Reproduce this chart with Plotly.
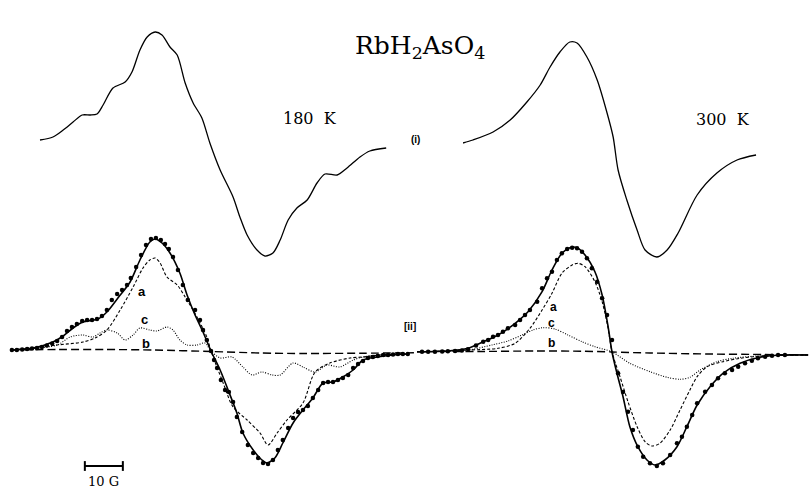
import plotly.graph_objects as go

# ---------------- data (field offset in G, intensity in arbitrary units) ----------------
# (i) experimental spectra
top180_x = [-45.0, -41.6, -38.9, -36.3, -33.9, -31.8, -30.0, -28.4, -25.8, -22.6, -20.8, -18.7, -16.8, -14.7,
            -12.9, -10.8, -8.9, -6.8, -4.7, -2.4, -0.3, 2.4, 5.8, 7.6, 9.5, 12.1, 14.2, 16.3, 18.2, 20.3,
            22.6, 25.3, 27.9, 30.0, 33.2, 35.8, 39.2, 41.8, 46.1]
top180_y = [4, 7, 14, 22, 29, 29, 30, 39, 56, 62, 72, 94, 107, 112,
            109, 97, 89, 61, 41, 26, 1, -26, -53, -73, -91, -106, -112, -109, -96, -76,
            -64, -56, -39, -30, -31, -24, -13, -7, -4]

top300_x = [-39.2, -36.6, -31.3, -26.8, -22.4, -18.9, -16.3, -13.7, -11.1, -9.2, -6.6, -3.9, -1.3, 0.3,
            1.6, 3.9, 6.6, 8.7, 11.8, 14.5, 17.4, 22.4, 27.6, 32.9, 37.9]
top300_y = [1, 4, 12, 24, 42, 59, 77, 92, 102, 101, 87, 64, 31, 7,
            -26, -56, -86, -106, -113, -106, -89, -51, -29, -16, -11]

# (ii) 180 K : experimental points, total fit and components a, b, c
exp180_x = [-52.4, -51.1, -49.7, -48.4, -47.1, -45.8, -44.5, -43.2, -41.8, -40.5, -39.2, -37.9, -36.6, -35.3,
            -33.9, -32.6, -31.3, -30.0, -28.7, -27.4, -26.1, -24.7, -23.4, -22.1, -21.1, -19.7, -18.4, -17.1,
            -15.8, -14.5, -13.2, -12.1, -11.1, -10.0, -8.7, -7.4, -6.1, -4.2, -2.9, -2.1, -1.1, 0.0, 0.8,
            1.6, 2.6, 3.7, 4.7, 5.8, 6.8, 8.2, 9.7, 11.1, 12.4, 13.7, 15.0, 16.3, 17.6, 18.9, 20.3, 21.6,
            22.9, 24.2, 25.5, 26.8, 28.2, 29.5, 30.8, 32.1, 33.4, 34.7, 36.1, 37.4, 38.7, 40.0, 41.3, 42.6,
            43.9, 45.3, 46.6, 47.9, 49.2, 50.5, 51.8]
exp180_y = [2, 2, 2.5, 3, 3.5, 4, 5, 6.5, 8.5, 11, 15, 21, 25, 28,
            31, 32, 32, 33, 36, 42, 52, 58, 62, 67, 74, 85, 97, 107,
            113, 114, 112, 108, 103, 95, 82, 67, 52, 42, 32, 22, 12, 1, -8,
            -16, -28, -38, -40, -50, -65, -80, -93, -101, -106, -111, -112, -108, -98, -88, -76, -66,
            -60, -58, -54, -46, -38, -31, -30, -30, -28, -26, -23, -16, -12, -9, -6, -5,
            -4, -3, -3, -2.5, -2, -2, -2]

fit180_x = [-52.6, -46.8, -41.6, -38.9, -36.3, -33.7, -29.7, -27.4, -24.5, -21.3, -18.7, -16.1, -14.7, -12.9,
            -10.8, -8.2, -6.3, -4.2, -2.1, 0.0, 2.4, 4.5, 6.8, 8.4, 11.1, 13.4, 14.7, 16.8, 18.9, 21.6,
            24.2, 26.8, 29.5, 32.1, 34.7, 37.4, 40.0, 43.7, 47.9, 51.8]
fit180_y = [2, 4, 10, 16, 24, 30, 33, 40, 54, 70, 92, 110, 113, 109,
            99, 79, 57, 37, 20, 1, -18, -38, -61, -81, -98, -108, -111, -106, -91, -71,
            -58, -46, -31, -30, -25, -18, -8, -5, -3, -2]

a180_x = [-52.6, -40.5, -33.7, -30.5, -27.4, -23.9, -20.5, -17.9, -16.1, -14.7, -13.4, -11.6, -8.9, -6.8,
          -3.7, -1.1, 0.0, 3.2, 5.8, 9.5, 12.9, 15.0, 17.4, 20.0, 24.2, 27.4, 31.3, 36.6, 40.0, 44.5, 51.8]
a180_y = [2, 7, 10, 14, 22, 42, 65, 84, 92, 94, 89, 75, 67, 55,
          35, 15, 1, -31, -55, -68, -81, -93, -81, -68, -51, -20, -11, -6, -5, -3, -2]

c180_x = [-52.6, -40.5, -37.1, -33.7, -31.1, -29.2, -27.4, -24.7, -22.6, -20.5, -18.7, -16.1, -14.2, -11.6,
          -10.0, -8.2, -6.3, -3.7, -1.6, 0.0, 2.4, 5.5, 8.4, 10.8, 13.4, 16.1, 18.2, 21.6, 24.2, 27.4,
          30.5, 33.9, 37.4, 40.0, 43.7, 51.8]
c180_y = [2, 7, 15, 17, 15, 19, 22, 19, 12, 17, 24, 22, 21, 25,
          22, 12, 7, 7, 9, 1, -6, -5, -15, -23, -20, -23, -23, -11, -15, -20,
          -13, -15, -8, -5, -3, -2]

b180_x = [-52.6, -40.0, -28.0, -15.0, 0.0, 13.0, 25.0, 40.0, 53.4]
b180_y = [2, 2.5, 2.5, 2, 0.5, -1, -1.5, -1.2, -0.8]

# (ii) 300 K
exp300_x = [-50.0, -48.4, -46.6, -44.7, -43.2, -41.3, -39.5, -37.9, -35.8, -33.9, -32.6, -31.3, -30.0, -28.7,
            -27.4, -25.5, -24.2, -22.9, -21.6, -19.7, -18.4, -17.1, -15.8, -14.5, -13.2, -11.8, -10.5, -9.2,
            -7.9, -6.6, -5.3, -3.9, -2.6, -1.3, 0.0, 1.6, 2.9, 4.2, 5.5, 6.8, 8.2, 10.0, 11.8, 13.4,
            15.3, 17.1, 18.4, 19.7, 21.1, 22.4, 24.5, 26.3, 27.9, 29.7, 31.6, 33.2, 35.0, 36.8, 38.4, 40.3,
            42.1, 43.7, 45.5]
exp300_y = [0.3, 0.3, 0.3, 0.5, 0.7, 1, 1.5, 2.7, 6.5, 10.3, 12, 15.3, 17, 20.3,
            23.7, 27, 32, 37, 42, 50.3, 63.7, 73.7, 80.3, 92, 98.7, 103, 104.3, 103.7,
            100.3, 93.7, 83.7, 70.3, 53.7, 37, 12, -21.3, -40, -59.7, -78, -94.7, -104.7, -111.3, -114, -111.3,
            -103, -91.3, -84.7, -74.7, -63, -51.3, -39.7, -33, -26.3, -21.3, -18, -14.7, -11.3, -8.7, -6.3, -4.7,
            -3.7, -3, -3]

fit300_x = [-51.3, -43.2, -37.9, -34.2, -30.0, -25.5, -22.1, -18.4, -15.8, -13.2, -11.1, -9.2, -7.1, -4.5,
            -2.6, -1.1, 0.0, 1.3, 2.9, 4.7, 6.8, 9.2, 11.3, 13.9, 17.1, 19.7, 22.4, 25.8, 29.2, 33.7,
            38.9, 45.0, 51.6]
fit300_y = [0.3, 1, 3.7, 9.7, 17, 28.7, 40.3, 60.3, 82, 98.7, 104.3, 104.3, 97, 80.3,
            57, 27, 0, -21.3, -44.7, -74.7, -94.7, -108, -113, -108, -94.7, -74.7, -53, -34.7, -21.3, -11.3,
            -5.3, -3, -3]

a300_x = [-51.3, -37.9, -30.0, -25.5, -21.6, -18.4, -15.8, -13.2, -10.5, -8.9, -7.1, -4.5, -2.6, -1.1,
          0.0, 2.1, 4.2, 6.6, 8.7, 10.5, 12.6, 15.3, 17.9, 20.5, 22.4, 25.0, 29.2, 33.7, 39.7, 51.6]
a300_y = [0.3, 2, 3.7, 8.7, 23.7, 42, 58.7, 78.7, 87, 88.7, 85.3, 70.3, 50.3, 25.3,
          0, -24.7, -49.7, -74.7, -89.7, -94, -91.3, -78, -58, -38, -24.7, -14.7, -9.7, -6.3, -4, -3]

c300_x = [-51.3, -37.9, -31.6, -27.4, -23.7, -20.8, -18.2, -15.0, -11.6, -7.9, -4.5, 0.0, 4.7, 10.0,
          14.5, 17.9, 20.5, 23.2, 27.6, 31.8, 38.2, 51.6]
c300_y = [0.3, 2, 7, 11, 17, 22, 24.3, 23, 17, 10.3, 5.3, 0, -11.3, -19.7,
          -25.3, -27.3, -25.3, -18, -9.7, -6.3, -4, -3]

b300_x = [-51.3, -35.0, -20.0, -8.0, 0.0, 10.0, 25.0, 40.0, 51.6]
b300_y = [0.3, 0.5, 1, 0.8, 0, -1, -2, -2.5, -3]

component_labels = ["a", "c", "b"]
label180_x = [-18.2, -17.6, -17.1]
label180_y = [60, 32, 8]
label300_x = [-15.5, -15.9, -15.9]
label300_y = [45, 29, 9]

temperatures = ["180\u00a0\u00a0K", "300\u00a0\u00a0K"]
scale_bar_start_G = -33.2
scale_bar_len_G = 10
title_text = "RbH<sub>2</sub>AsO<sub>4</sub>"

# ---------------- figure ----------------
BLACK = "black"
fig = go.Figure()

def line(x, y, xa, ya, dash="solid", width=1.4):
    fig.add_trace(go.Scatter(x=x, y=y, xaxis=xa, yaxis=ya, mode="lines",
                             line=dict(color=BLACK, width=width, dash=dash, shape="spline", smoothing=0.8),
                             hoverinfo="skip", showlegend=False))

def dots(x, y, xa, ya):
    fig.add_trace(go.Scatter(x=x, y=y, xaxis=xa, yaxis=ya, mode="markers",
                             marker=dict(color=BLACK, size=4.5), hoverinfo="skip", showlegend=False))

# top spectra (i)
line(top180_x, top180_y, "x", "y2", width=1.3)
line(top300_x, top300_y, "x2", "y2", width=1.3)

# bottom simulations (ii)
for (bx, by, ax_, ay_, cx, cy, fx, fy, ex, ey, xa) in [
        (b180_x, b180_y, a180_x, a180_y, c180_x, c180_y, fit180_x, fit180_y, exp180_x, exp180_y, "x"),
        (b300_x, b300_y, a300_x, a300_y, c300_x, c300_y, fit300_x, fit300_y, exp300_x, exp300_y, "x2")]:
    line(bx, by, xa, "y", dash="8px,4px", width=1.4)
    line(cx, cy, xa, "y", dash="1px,1.5px", width=1.1)
    line(ax_, ay_, xa, "y", dash="3px,2px", width=1.1)
    line(fx, fy, xa, "y", width=1.6)
    dots(ex, ey, xa, "y")

# scale bar
fig.add_trace(go.Scatter(x=[scale_bar_start_G, scale_bar_start_G + scale_bar_len_G], y=[-114, -114],
                         xaxis="x", yaxis="y", mode="lines+markers",
                         line=dict(color=BLACK, width=2),
                         marker=dict(symbol="line-ns-open", size=7, line=dict(color=BLACK, width=2)),
                         hoverinfo="skip", showlegend=False))

ann = []
for t, lx, ly in zip(component_labels, label180_x, label180_y):
    ann.append(dict(text=t, x=lx, y=ly, xref="x", yref="y", showarrow=False,
                    font=dict(family="Liberation Sans", size=13, color=BLACK, weight="bold")))
for t, lx, ly in zip(component_labels, label300_x, label300_y):
    ann.append(dict(text=t, x=lx, y=ly, xref="x2", yref="y", showarrow=False,
                    font=dict(family="Liberation Sans", size=12, color=BLACK, weight="bold")))
serif = "DejaVu Serif"
ann.append(dict(text=temperatures[0], x=26.1, y=26, xref="x", yref="y2", showarrow=False,
                font=dict(family=serif, size=16, color=BLACK)))
ann.append(dict(text=temperatures[1], x=29.2, y=25, xref="x2", yref="y2", showarrow=False,
                font=dict(family=serif, size=16, color=BLACK)))
ann.append(dict(text="%d G" % scale_bar_len_G, x=scale_bar_start_G + scale_bar_len_G / 2, y=-130,
                xref="x", yref="y", showarrow=False, font=dict(family=serif, size=13, color=BLACK)))
ann.append(dict(text=title_text, x=0.519, y=0.94, xref="paper", yref="paper", showarrow=False,
                font=dict(family=serif, size=25, color=BLACK)))
ann.append(dict(text="(i)", x=0.513, y=0.731, xref="paper", yref="paper", showarrow=False,
                font=dict(family="Liberation Sans Narrow, Liberation Sans", size=10, color=BLACK, weight="bold")))
ann.append(dict(text="[ii]", x=0.507, y=0.336, xref="paper", yref="paper", showarrow=False,
                font=dict(family="Liberation Sans Narrow, Liberation Sans", size=10, color=BLACK, weight="bold")))

hidden = dict(visible=False, showgrid=False, zeroline=False, fixedrange=True)
fig.update_layout(
    width=809, height=491,
    margin=dict(l=0, r=0, t=0, b=0),
    paper_bgcolor="white", plot_bgcolor="rgba(0,0,0,0)",
    showlegend=False,
    xaxis=dict(domain=[0, 414 / 809], range=[-55.53, 53.42], anchor="y", **hidden),
    xaxis2=dict(domain=[414 / 809, 1], range=[-52.11, 51.84], anchor="y", **hidden),
    yaxis=dict(domain=[0, 0.56], range=[-139, 135.96], anchor="x", **hidden),
    yaxis2=dict(domain=[0.44, 1], range=[-130.96, 144], anchor="x", **hidden),
    annotations=ann,
)

fig.write_html("out.html", config={"displayModeBar": False},
               post_script="document.body.style.margin='0';document.body.style.overflow='hidden';")
